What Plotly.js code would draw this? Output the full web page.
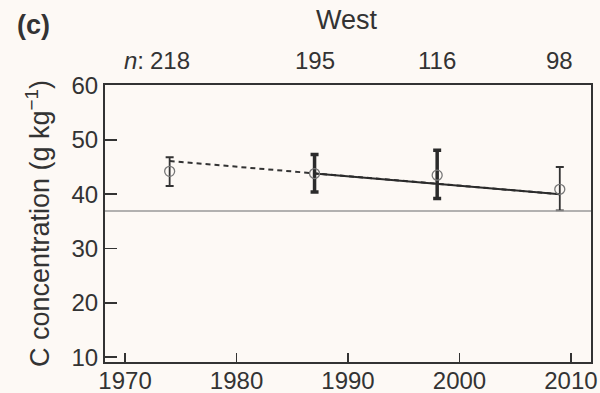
<!DOCTYPE html>
<html>
<head>
<meta charset="utf-8">
<script src="https://cdn.plot.ly/plotly-3.0.1.min.js"></script>
<style>html,body{margin:0;padding:0;background:#fdf9f5;}</style>
</head>
<body>
<div id="chart" style="width:600px;height:393px;"></div>
<script>
// Survey years and C concentration (g kg-1)
const years = [1974, 1987, 1998, 2009];
const means = [44.2, 43.8, 43.5, 40.9];
const upper = [46.8, 47.3, 48.1, 45.0];
const lower = [41.5, 40.4, 39.2, 37.0];
const nLabels = ['218', '195', '116', '98'];
const thick = [false, true, true, false];

// Trend lines
const dashYears = [1974, 2009];
const dashVals = [46.1, 40.0];
const solidYears = [1987, 2009];
const solidVals = [43.8, 40.0];

// Reference level
const refLevel = 36.9;

const xTicks = [1970, 1980, 1990, 2000, 2010];
const yTicks = [10, 20, 30, 40, 50, 60];

function subset(flag) {
  const idx = years.map((_, i) => i).filter(i => thick[i] === flag);
  return {
    x: idx.map(i => years[i]),
    y: idx.map(i => means[i]),
    plus: idx.map(i => upper[i] - means[i]),
    minus: idx.map(i => means[i] - lower[i])
  };
}
const thin = subset(false), thk = subset(true);

const traces = [
  {x: dashYears, y: dashVals, mode: 'lines', line: {color: '#333', width: 2, dash: '5px,4px'}, hoverinfo: 'skip'},
  {x: solidYears, y: solidVals, mode: 'lines', line: {color: '#2b2b2b', width: 2}, hoverinfo: 'skip'},
  {x: thin.x, y: thin.y, mode: 'markers', marker: {symbol: 'circle-open', size: 10, color: '#777', line: {width: 1.3}},
   error_y: {type: 'data', symmetric: false, array: thin.plus, arrayminus: thin.minus, color: '#333', thickness: 1.8, width: 4}},
  {x: thk.x, y: thk.y, mode: 'markers', marker: {symbol: 'circle-open', size: 10, color: '#777', line: {width: 1.3}},
   error_y: {type: 'data', symmetric: false, array: thk.plus, arrayminus: thk.minus, color: '#2b2b2b', thickness: 3.5, width: 4}}
];

const family = 'Liberation Sans, Arial, sans-serif';
const tickFont = {family: family, size: 24, color: '#333'};
const bigFont = {family: family, size: 27, color: '#333'};

const annotations = [
  {text: '<b>(c)</b>', xref: 'paper', yref: 'paper', x: -0.148, y: 1.217, xanchor: 'center', yanchor: 'middle', showarrow: false, font: bigFont},
  {text: 'West', xref: 'paper', yref: 'paper', x: 0.498, y: 1.236, xanchor: 'center', yanchor: 'middle', showarrow: false, font: bigFont},
  {text: '<i>n</i>:', xref: 'x', yref: 'paper', x: 1971.9, y: 1.088, xanchor: 'right', yanchor: 'middle', showarrow: false, font: tickFont}
];
years.forEach((yr, i) => annotations.push({
  text: nLabels[i], xref: 'x', yref: 'paper', x: yr, y: 1.088, xanchor: 'center', yanchor: 'middle', showarrow: false, font: tickFont
}));

const layout = {
  width: 600, height: 393,
  paper_bgcolor: '#fdf9f5', plot_bgcolor: '#fdf9f5',
  showlegend: false,
  margin: {l: 105, r: 9, t: 85, b: 31},
  font: tickFont,
  xaxis: {
    range: [1968.2, 2011.8], tickvals: xTicks, ticks: 'inside', ticklen: 9, tickwidth: 1.5, tickcolor: '#333',
    showgrid: false, zeroline: false, showline: true, linecolor: '#333', linewidth: 2, mirror: true,
    tickfont: tickFont, ticklabelstandoff: -4
  },
  yaxis: {
    range: [9.1, 60.1], tickvals: yTicks, ticks: 'inside', ticklen: 12, tickwidth: 1.5, tickcolor: '#333',
    showgrid: false, zeroline: false, showline: true, linecolor: '#333', linewidth: 2, mirror: true,
    tickfont: tickFont,
    title: {text: 'C concentration (g kg<sup>−1</sup>)', font: bigFont, standoff: 14}
  },
  shapes: [
    {type: 'line', xref: 'paper', x0: 0, x1: 1, yref: 'y', y0: refLevel, y1: refLevel, line: {color: '#999', width: 1.5}}
  ],
  annotations: annotations
};

Plotly.newPlot('chart', traces, layout, {displayModeBar: false, staticPlot: true});
</script>
</body>
</html>
